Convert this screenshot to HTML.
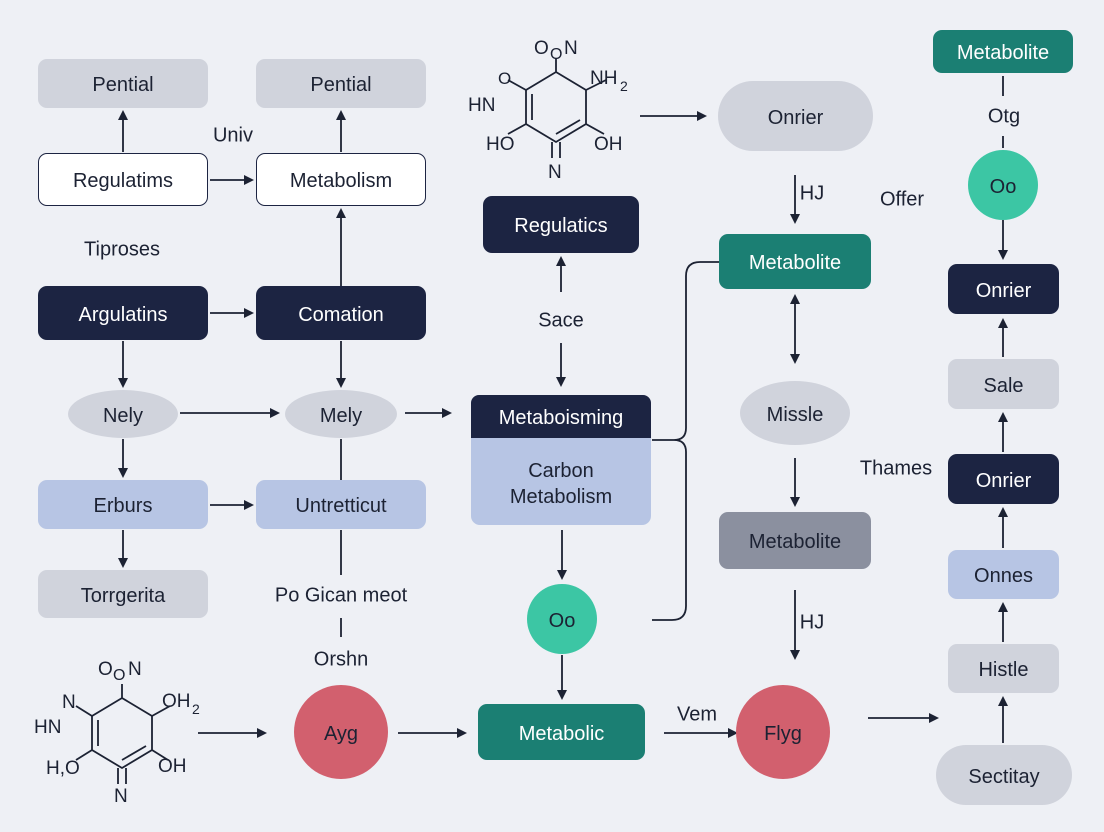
<!DOCTYPE html>
<html><head><meta charset="utf-8"><style>
body{margin:0;width:1104px;height:832px;background:#eef0f5;font-family:"Liberation Sans",sans-serif;position:relative;overflow:hidden}
.b{position:absolute;display:flex;align-items:center;justify-content:center;text-align:center;font-size:20px;border-radius:9px;box-sizing:border-box;color:#1c2233;padding-top:4px}
.g{background:#d0d3dc}.n{background:#1c2442;color:#fff}.t{background:#1b7f73;color:#fff}.lb{background:#b7c5e4}.w{background:#fff;border:1.5px solid #1c2442}
.s{background:#8b909f;color:#1c2233}
.c{border-radius:50%}
.tx{position:absolute;font-size:20px;color:#1c2233;transform:translate(-50%,-45%);white-space:nowrap}
svg{position:absolute;left:0;top:0}
</style></head><body>
<svg width="1104" height="832">
<defs><marker id="a" markerWidth="10" markerHeight="10" refX="8" refY="5" orient="auto" markerUnits="userSpaceOnUse"><path d="M0,0 L10,5 L0,10 z" fill="#1c2233"/></marker>
<marker id="s" markerWidth="10" markerHeight="10" refX="2" refY="5" orient="auto-start-reverse" markerUnits="userSpaceOnUse"><path d="M0,0 L10,5 L0,10 z" fill="#1c2233"/></marker></defs>
<g stroke="#1c2233" stroke-width="1.8" fill="none">
<line x1="123" y1="152" x2="123" y2="112" marker-end="url(#a)"/>
<line x1="341" y1="152" x2="341" y2="112" marker-end="url(#a)"/>
<line x1="210" y1="180" x2="252" y2="180" marker-end="url(#a)"/>
<line x1="341" y1="286" x2="341" y2="210" marker-end="url(#a)"/>
<line x1="210" y1="313" x2="252" y2="313" marker-end="url(#a)"/>
<line x1="123" y1="341" x2="123" y2="386" marker-end="url(#a)"/>
<line x1="341" y1="341" x2="341" y2="386" marker-end="url(#a)"/>
<line x1="180" y1="413" x2="278" y2="413" marker-end="url(#a)"/>
<line x1="405" y1="413" x2="450" y2="413" marker-end="url(#a)"/>
<line x1="123" y1="439" x2="123" y2="476" marker-end="url(#a)"/>
<line x1="210" y1="505" x2="252" y2="505" marker-end="url(#a)"/>
<line x1="123" y1="530" x2="123" y2="566" marker-end="url(#a)"/>
<line x1="341" y1="439" x2="341" y2="480"/>
<line x1="341" y1="530" x2="341" y2="575"/>
<line x1="341" y1="618" x2="341" y2="637"/>
<line x1="198" y1="733" x2="265" y2="733" marker-end="url(#a)"/>
<line x1="398" y1="733" x2="465" y2="733" marker-end="url(#a)"/>
<line x1="664" y1="733" x2="736" y2="733" marker-end="url(#a)"/>
<line x1="868" y1="718" x2="937" y2="718" marker-end="url(#a)"/>
<line x1="562" y1="655" x2="562" y2="698" marker-end="url(#a)"/>
<line x1="562" y1="530" x2="562" y2="578" marker-end="url(#a)"/>
<line x1="561" y1="292" x2="561" y2="258" marker-end="url(#a)"/>
<line x1="561" y1="343" x2="561" y2="385" marker-end="url(#a)"/>
<line x1="640" y1="116" x2="705" y2="116" marker-end="url(#a)"/>
<line x1="795" y1="175" x2="795" y2="222" marker-end="url(#a)"/>
<line x1="795" y1="302" x2="795" y2="362" marker-start="url(#s)" marker-end="url(#a)"/>
<line x1="795" y1="458" x2="795" y2="505" marker-end="url(#a)"/>
<line x1="795" y1="590" x2="795" y2="658" marker-end="url(#a)"/>
<line x1="1003" y1="76" x2="1003" y2="96"/>
<line x1="1003" y1="136" x2="1003" y2="148"/>
<line x1="1003" y1="220" x2="1003" y2="258" marker-end="url(#a)"/>
<line x1="1003" y1="357" x2="1003" y2="320" marker-end="url(#a)"/>
<line x1="1003" y1="452" x2="1003" y2="414" marker-end="url(#a)"/>
<line x1="1003" y1="548" x2="1003" y2="509" marker-end="url(#a)"/>
<line x1="1003" y1="642" x2="1003" y2="604" marker-end="url(#a)"/>
<line x1="1003" y1="743" x2="1003" y2="698" marker-end="url(#a)"/>
<path d="M719,262 L700,262 Q686,262 686,276 L686,428 Q686,440 674,440 L652,440 M674,440 Q686,440 686,452 L686,606 Q686,620 672,620 L652,620"/>
<path d="M556,72 L586,90 L586,124 L556,142 L526,124 L526,90 Z M532,94 L532,120 M556,134 L580,120 M556,72 L556,58 M586,90 L606,80 M526,90 L508,80 M526,124 L508,134 M586,124 L604,134 M552,142 L552,158 M560,142 L560,158"/>
<path d="M122,698 L152,716 L152,750 L122,768 L92,750 L92,716 Z M98,720 L98,746 M122,760 L146,746 M122,698 L122,684 M152,716 L170,706 M92,716 L76,706 M92,750 L76,760 M152,750 L168,760 M118,768 L118,784 M126,768 L126,784"/>
</g>
<g font-family="Liberation Sans" font-size="19" fill="#1c2233">
<text x="534" y="54">O</text><text x="550" y="59" font-size="16">O</text><text x="564" y="54">N</text>
<text x="590" y="84">NH</text><text x="620" y="91" font-size="14">2</text>
<text x="468" y="111">HN</text><text x="498" y="84" font-size="17">O</text>
<text x="486" y="150">HO</text><text x="594" y="150">OH</text><text x="548" y="178">N</text>
<text x="98" y="675">O</text><text x="113" y="680" font-size="16">O</text><text x="128" y="675">N</text>
<text x="162" y="707">OH</text><text x="192" y="714" font-size="14">2</text>
<text x="34" y="733">HN</text><text x="62" y="708">N</text>
<text x="46" y="774">H,O</text><text x="158" y="772">OH</text><text x="114" y="802">N</text>
</g>
</svg>
<div class="b g" style="left:38px;top:59px;width:170px;height:49px">Pential</div>
<div class="b g" style="left:256px;top:59px;width:170px;height:49px">Pential</div>
<div class="b w" style="left:38px;top:153px;width:170px;height:53px">Regulatims</div>
<div class="b w" style="left:256px;top:153px;width:170px;height:53px">Metabolism</div>
<div class="b n" style="left:38px;top:286px;width:170px;height:54px">Argulatins</div>
<div class="b n" style="left:256px;top:286px;width:170px;height:54px">Comation</div>
<div class="b g c" style="left:68px;top:390px;width:110px;height:48px">Nely</div>
<div class="b g c" style="left:285px;top:390px;width:112px;height:48px">Mely</div>
<div class="b lb" style="left:38px;top:480px;width:170px;height:49px">Erburs</div>
<div class="b lb" style="left:256px;top:480px;width:170px;height:49px">Untretticut</div>
<div class="b g" style="left:38px;top:570px;width:170px;height:48px">Torrgerita</div>
<div class="b c" style="left:294px;top:685px;width:94px;height:94px;background:#d2606e">Ayg</div>
<div class="b t" style="left:478px;top:704px;width:167px;height:56px">Metabolic</div>
<div class="b c" style="left:527px;top:584px;width:70px;height:70px;background:#3cc6a4">Oo</div>
<div class="b lb" style="left:471px;top:395px;width:180px;height:130px;align-items:flex-end;padding-bottom:15px;line-height:26px">Carbon<br>Metabolism</div>
<div class="b n" style="left:471px;top:395px;width:180px;height:43px;border-radius:8px 8px 0 0">Metaboisming</div>
<div class="b n" style="left:483px;top:196px;width:156px;height:57px">Regulatics</div>
<div class="b g" style="left:718px;top:81px;width:155px;height:70px;border-radius:35px">Onrier</div>
<div class="b t" style="left:719px;top:234px;width:152px;height:55px">Metabolite</div>
<div class="b g c" style="left:740px;top:381px;width:110px;height:64px">Missle</div>
<div class="b s" style="left:719px;top:512px;width:152px;height:57px">Metabolite</div>
<div class="b c" style="left:736px;top:685px;width:94px;height:94px;background:#d2606e">Flyg</div>
<div class="b t" style="left:933px;top:30px;width:140px;height:43px">Metabolite</div>
<div class="b c" style="left:968px;top:150px;width:70px;height:70px;background:#3cc6a4">Oo</div>
<div class="b n" style="left:948px;top:264px;width:111px;height:50px">Onrier</div>
<div class="b g" style="left:948px;top:359px;width:111px;height:50px">Sale</div>
<div class="b n" style="left:948px;top:454px;width:111px;height:50px">Onrier</div>
<div class="b lb" style="left:948px;top:550px;width:111px;height:49px">Onnes</div>
<div class="b g" style="left:948px;top:644px;width:111px;height:49px">Histle</div>
<div class="b g" style="left:936px;top:745px;width:136px;height:60px;border-radius:30px">Sectitay</div>
<div class="tx" style="left:233px;top:135px">Univ</div>
<div class="tx" style="left:122px;top:249px">Tiproses</div>
<div class="tx" style="left:341px;top:595px">Po Gican meot</div>
<div class="tx" style="left:341px;top:659px">Orshn</div>
<div class="tx" style="left:561px;top:320px">Sace</div>
<div class="tx" style="left:812px;top:193px">HJ</div>
<div class="tx" style="left:902px;top:199px">Offer</div>
<div class="tx" style="left:812px;top:622px">HJ</div>
<div class="tx" style="left:697px;top:714px">Vem</div>
<div class="tx" style="left:896px;top:468px">Thames</div>
<div class="tx" style="left:1004px;top:116px">Otg</div>
</body></html>
